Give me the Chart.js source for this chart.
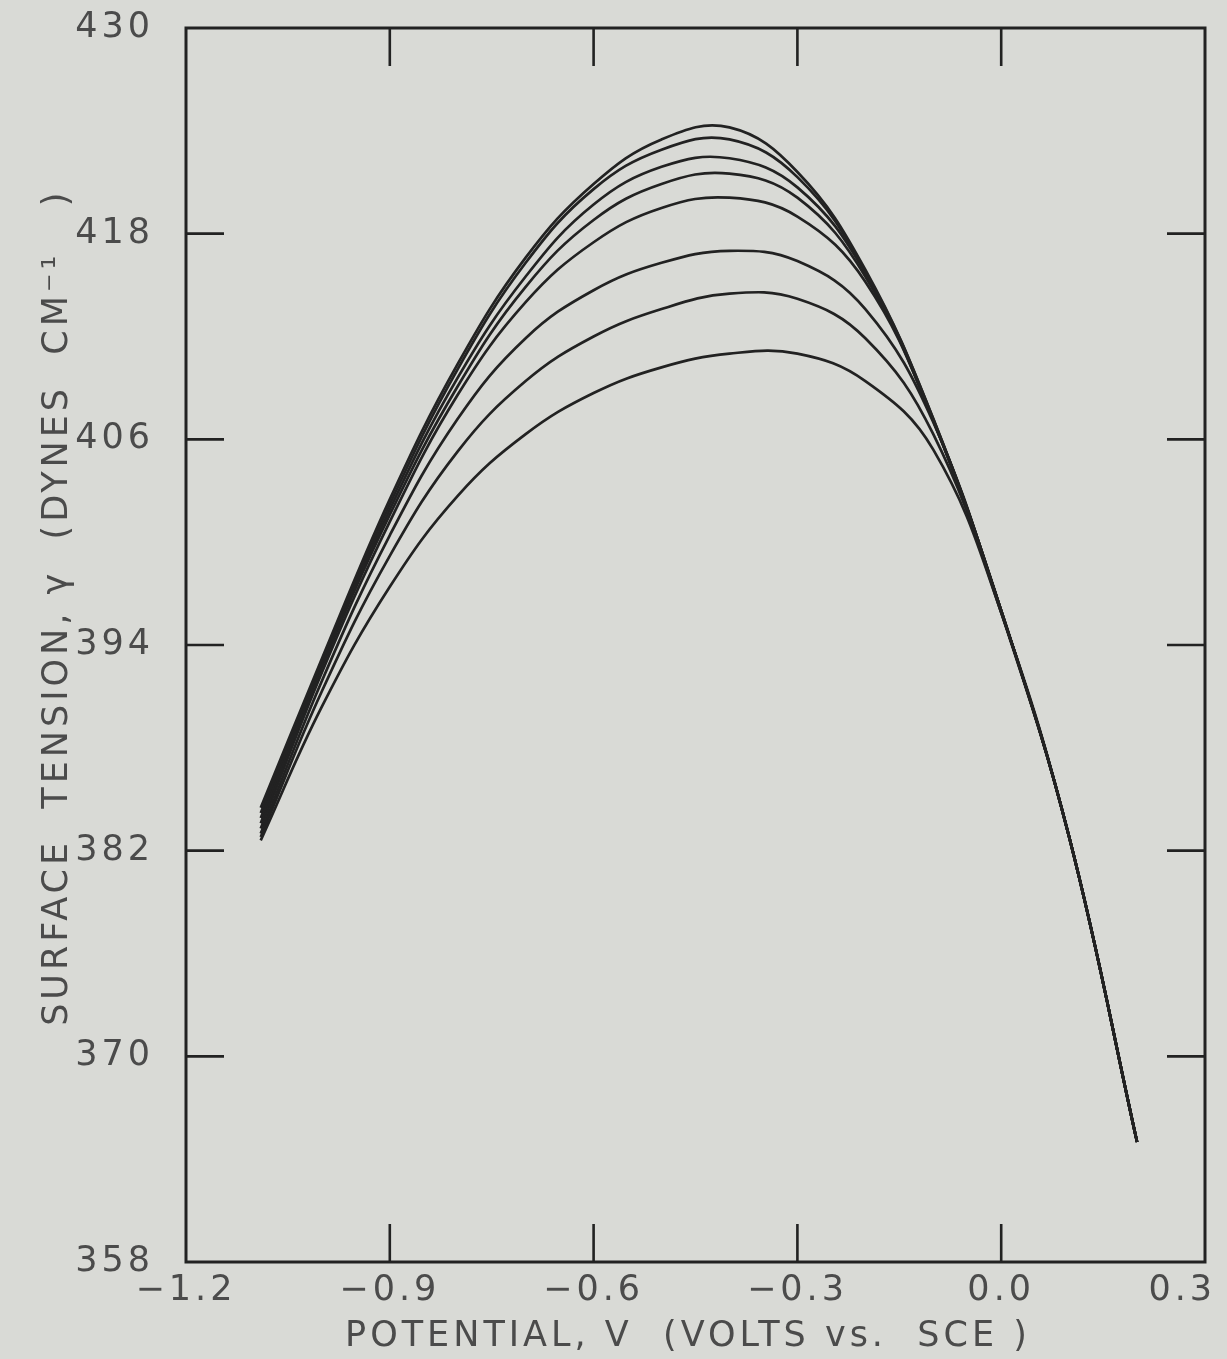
<!DOCTYPE html>
<html>
<head>
<meta charset="utf-8">
<title>Electrocapillary curves</title>
<script src="https://cdn.jsdelivr.net/npm/chart.js@4.4.1/dist/chart.umd.min.js"></script>
<style>
  html, body { margin: 0; padding: 0; background: #d9dad6; }
  canvas { display: block; }
</style>
</head>
<body>
<canvas id="ecc" width="1227" height="1359"></canvas>
<script>
// potential (V vs. SCE) where each trace was read
var potential = [-1.09, -1.0, -0.9, -0.8, -0.7, -0.6, -0.5, -0.4, -0.3, -0.2, -0.1, 0.0, 0.1, 0.2];

// surface tension (dynes/cm), top curve first
var gamma1 = [384.5, 393.2, 402.5, 410.4, 416.6, 420.9, 423.5, 424.2, 421.6, 415.9, 407.2, 396.0, 382.8, 365.0];
var gamma2 = [384.2, 393.0, 402.2, 410.1, 416.3, 420.6, 422.9, 423.5, 421.3, 415.8, 407.2, 396.0, 382.8, 365.0];
var gamma3 = [383.9, 392.8, 401.9, 409.6, 415.5, 419.7, 421.9, 422.4, 420.7, 415.7, 407.1, 396.0, 382.8, 365.0];
var gamma4 = [383.6, 392.7, 401.6, 409.1, 414.9, 418.8, 420.9, 421.5, 420.1, 415.5, 407.1, 396.0, 382.8, 365.0];
var gamma5 = [383.3, 392.4, 401.2, 408.6, 414.0, 417.5, 419.5, 420.1, 419.0, 415.2, 407.1, 396.0, 382.8, 365.0];
var gamma6 = [383.0, 391.9, 400.4, 407.2, 411.9, 414.7, 416.3, 417.0, 416.4, 413.6, 407.0, 395.9, 382.8, 365.0];
var gamma7 = [382.8, 391.3, 399.2, 405.3, 409.4, 412.0, 413.6, 414.5, 414.2, 411.9, 406.3, 395.9, 382.8, 365.0];
var gamma8 = [382.6, 390.4, 397.4, 402.7, 406.3, 408.7, 410.2, 411.0, 411.0, 409.4, 405.4, 395.9, 382.8, 365.0];

var xTicks = [-1.2, -0.9, -0.6, -0.3, 0.0, 0.3];
// last label carries trailing spaces so it stays inside the page edge
var xTickText = ["\u22121.2", "\u22120.9", "\u22120.6", "\u22120.3", "0.0", "0.3   "];
var yTicks = [358, 370, 382, 394, 406, 418, 430];

var curves = [gamma1, gamma2, gamma3, gamma4, gamma5, gamma6, gamma7, gamma8];
var ink = "#222222";
var textGrey = "#4b4b4b";

var datasets = curves.map(function (g, k) {
  return {
    label: "run " + (k + 1),
    data: potential.map(function (v, i) { return { x: v, y: g[i] }; }),
    borderColor: ink,
    borderWidth: 2.7,
    pointRadius: 0,
    tension: 0.4,
    fill: false
  };
});

// labels may hang past the plot edges, so keep scales from padding the area
function noOverhang(s) {
  s.paddingTop = 0; s.paddingBottom = 0; s.paddingLeft = 0; s.paddingRight = 0;
}

// box round the plot plus inward tick marks on all four sides
var frameTicks = {
  id: "frameTicks",
  beforeDraw: function (chart) {
    chart.ctx.letterSpacing = "4px";
  },
  afterDraw: function (chart) {
    var ctx = chart.ctx, a = chart.chartArea;
    var xs = chart.scales.x, ys = chart.scales.y;
    var len = 38;
    ctx.save();
    ctx.strokeStyle = ink;
    ctx.lineWidth = 3;
    ctx.strokeRect(a.left, a.top, a.right - a.left, a.bottom - a.top);
    ctx.lineWidth = 2.6;
    ctx.beginPath();
    xs.ticks.forEach(function (t, i) {
      if (i === 0 || i === xs.ticks.length - 1) return;
      var px = xs.getPixelForValue(t.value);
      ctx.moveTo(px, a.bottom); ctx.lineTo(px, a.bottom - len);
      ctx.moveTo(px, a.top); ctx.lineTo(px, a.top + len);
    });
    ys.ticks.forEach(function (t, i) {
      if (i === 0 || i === ys.ticks.length - 1) return;
      var py = ys.getPixelForValue(t.value);
      ctx.moveTo(a.left, py); ctx.lineTo(a.left + len, py);
      ctx.moveTo(a.right, py); ctx.lineTo(a.right - len, py);
    });
    ctx.stroke();
    ctx.restore();
  }
};

new Chart(document.getElementById("ecc"), {
  type: "line",
  data: { datasets: datasets },
  plugins: [frameTicks],
  options: {
    responsive: false,
    animation: false,
    devicePixelRatio: 1,
    layout: { padding: { top: 28, right: 22, left: 0, bottom: 0 } },
    plugins: { legend: { display: false }, tooltip: { enabled: false } },
    scales: {
      x: {
        type: "linear",
        min: -1.2,
        max: 0.3,
        afterBuildTicks: function (s) { s.ticks = xTicks.map(function (v) { return { value: v }; }); },
        afterFit: function (s) { s.height = 97; noOverhang(s); },
        grid: { display: false, drawTicks: false },
        border: { display: false },
        ticks: {
          padding: 8,
          color: textGrey,
          font: { family: "DejaVu Sans", size: 35 },
          maxRotation: 0,
          callback: function (v, i) { return xTickText[i]; }
        },
        title: {
          display: true,
          text: "POTENTIAL, V  (VOLTS vs.  SCE ) ",
          color: textGrey,
          font: { family: "DejaVu Sans", size: 35 },
          padding: { top: 0, bottom: 1 }
        }
      },
      y: {
        type: "linear",
        min: 358,
        max: 430,
        afterBuildTicks: function (s) { s.ticks = yTicks.map(function (v) { return { value: v }; }); },
        afterFit: function (s) { s.width = 186; noOverhang(s); },
        grid: { display: false, drawTicks: false },
        border: { display: false },
        ticks: {
          padding: 32,
          color: textGrey,
          font: { family: "DejaVu Sans", size: 35 }
        },
        title: {
          display: true,
          text: "     SURFACE  TENSION, \u03b3  (DYNES  CM\u207b\u00b9   )",
          color: textGrey,
          font: { family: "DejaVu Sans", size: 35 },
          padding: { top: 37, bottom: 0 }
        }
      }
    }
  }
});
</script>
</body>
</html>
